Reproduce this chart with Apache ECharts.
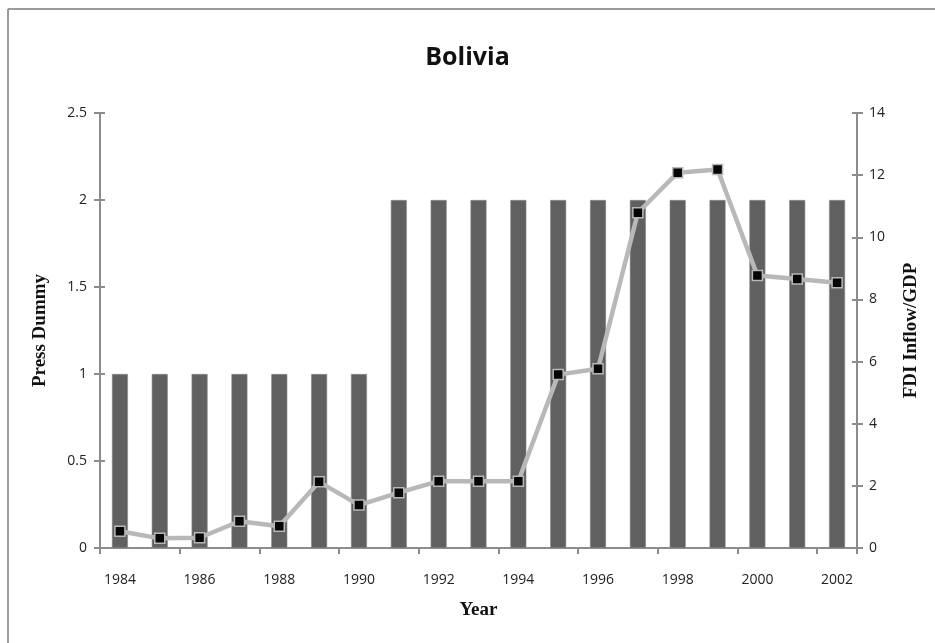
<!DOCTYPE html>
<html>
<head>
<meta charset="utf-8">
<script src="https://cdn.jsdelivr.net/npm/echarts@6/dist/echarts.min.js"></script>
<style>
  html, body { margin: 0; padding: 0; background: #ffffff; }
  #chart { width: 935px; height: 643px; }
</style>
</head>
<body>
<div id="chart"></div>
<script>
// data
var years = ['1984', '1985', '1986', '1987', '1988', '1989', '1990', '1991', '1992', '1993',
  '1994', '1995', '1996', '1997', '1998', '1999', '2000', '2001', '2002'];
var pressDummy = [1, 1, 1, 1, 1, 1, 1, 2, 2, 2, 2, 2, 2, 2, 2, 2, 2, 2, 2];
var fdiInflow = [0.54, 0.31, 0.33, 0.86, 0.70, 2.13, 1.38, 1.78, 2.15, 2.15,
  2.15, 5.58, 5.77, 10.79, 12.08, 12.18, 8.77, 8.66, 8.54];

var axisGray = '#8c8c8c';
var labelFont = 'Open Sans';
var nameStyle = { fontFamily: 'Liberation Serif', fontWeight: 'bold', fontSize: 19, color: '#111' };

// second copy of an axis, only to draw the inner half of the crossing ticks
function innerTicks(min, max, step, pos) {
  return {
    type: 'value', min: min, max: max, interval: step, position: pos,
    splitLine: { show: false },
    axisLine: { show: false },
    axisLabel: { show: false },
    axisTick: { show: true, inside: true, length: 5, lineStyle: { color: axisGray, width: 2 } }
  };
}

var chart = echarts.init(document.getElementById('chart'));
chart.setOption({
  animation: false,
  backgroundColor: '#ffffff',
  title: {
    text: 'Bolivia',
    left: 'center',
    top: 40,
    textStyle: { fontFamily: labelFont, fontSize: 25, fontWeight: 'bold', color: '#111' }
  },
  graphic: [
    // frame lines top and left
    { type: 'line', shape: { x1: 8, y1: 9, x2: 935, y2: 9 }, style: { stroke: '#9a9a9a', lineWidth: 2 } },
    { type: 'line', shape: { x1: 8, y1: 9, x2: 8, y2: 643 }, style: { stroke: '#9a9a9a', lineWidth: 2 } }
  ],
  grid: { left: 100, right: 78, top: 113, bottom: 95 },
  xAxis: {
    type: 'category',
    data: years,
    name: 'Year',
    nameLocation: 'middle',
    nameGap: 53,
    nameTextStyle: nameStyle,
    axisLine: { lineStyle: { color: axisGray, width: 2 } },
    axisTick: { show: true, length: 6, lineStyle: { color: axisGray, width: 2 } },
    axisLabel: { interval: 1, margin: 25, fontFamily: labelFont, fontSize: 14, color: '#222' }
  },
  yAxis: [
    {
      type: 'value',
      min: 0, max: 2.5, interval: 0.5,
      name: 'Press Dummy',
      nameLocation: 'middle',
      nameGap: 50,
      nameRotate: 90,
      nameTextStyle: nameStyle,
      splitLine: { show: false },
      axisLine: { show: true, lineStyle: { color: axisGray, width: 2 } },
      axisTick: { show: true, length: 6, lineStyle: { color: axisGray, width: 2 } },
      axisLabel: { margin: 13, fontFamily: labelFont, fontSize: 14, color: '#222' }
    },
    {
      type: 'value',
      min: 0, max: 14, interval: 2,
      position: 'right',
      name: 'FDI Inflow/GDP',
      nameLocation: 'middle',
      nameGap: 45,
      nameRotate: 90,
      nameTextStyle: nameStyle,
      splitLine: { show: false },
      axisLine: { show: true, lineStyle: { color: axisGray, width: 2 } },
      axisTick: { show: true, length: 6, lineStyle: { color: axisGray, width: 2 } },
      axisLabel: { margin: 12, fontFamily: labelFont, fontSize: 14, color: '#222' }
    },
    innerTicks(0, 2.5, 0.5, 'left'),
    innerTicks(0, 14, 2, 'right')
  ],
  series: [
    {
      name: 'Press Dummy',
      type: 'bar',
      yAxisIndex: 0,
      barWidth: 16,
      data: pressDummy,
      itemStyle: { color: '#5f605f', borderColor: '#8a8a8a', borderWidth: 0.6 }
    },
    {
      name: 'FDI Inflow/GDP',
      type: 'line',
      yAxisIndex: 1,
      data: fdiInflow,
      symbol: 'rect',
      symbolSize: 10,
      lineStyle: { color: '#b8b8b8', width: 4.5 },
      itemStyle: { color: '#050505', borderColor: '#b8b8b8', borderWidth: 1.5 },
      z: 3
    }
  ]
});
</script>
</body>
</html>
